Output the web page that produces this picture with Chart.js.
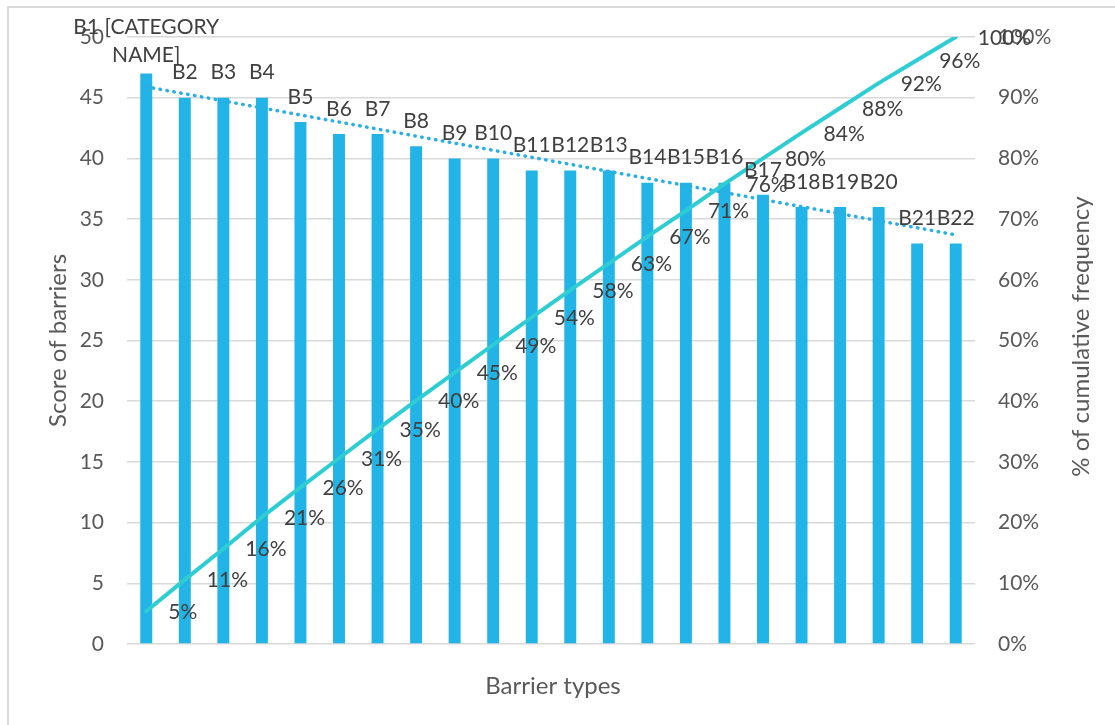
<!DOCTYPE html>
<html>
<head>
<meta charset="utf-8">
<title>Barrier types</title>
<script src="https://cdn.jsdelivr.net/npm/chart.js@4.4.1/dist/chart.umd.min.js"></script>
<style>
  html, body { margin: 0; padding: 0; background: #fff; overflow: hidden; }
  #wrap { position: relative; width: 1115px; height: 725px; }
  #frame {
    position: absolute; left: 7px; top: 6px; width: 1200px; height: 800px;
    border: 2px solid #d9d9d9; box-sizing: border-box;
  }
  canvas { position: absolute; left: 0; top: 0; }
</style>
</head>
<body>
<div id="wrap">
  <div id="frame"></div>
  <canvas id="chart" width="1115" height="725"></canvas>
</div>
<script>
/* ---------- data ---------- */
const categories = [
  ["B1 [CATEGORY", "NAME]"], "B2", "B3", "B4", "B5", "B6", "B7", "B8", "B9", "B10", "B11",
  "B12", "B13", "B14", "B15", "B16", "B17", "B18", "B19", "B20", "B21", "B22"
];
const scores = [47, 45, 45, 45, 43, 42, 42, 41, 40, 40, 39, 39, 39, 38, 38, 38, 37, 36, 36, 36, 33, 33];
const cumulativePct = [5.4, 10.6, 15.7, 20.9, 25.8, 30.6, 35.4, 40.1, 44.7, 49.3, 53.8,
  58.3, 62.7, 67.1, 71.4, 75.8, 80.0, 84.2, 88.3, 92.4, 96.2, 100];
// linear trend of the scores, only its two ends are needed
const trendEnds = [45.9, 33.7];
const scoreTicks = { min: 0, max: 50, step: 5 };
const pctTicks = { min: 0, max: 100, step: 10 };

const FONT = "Lato, 'Open Sans', sans-serif";
const BAR_COLOR = "#22b4e6";
const CUM_COLOR = "#2ecdd4";
const TREND_COLOR = "#2aaee4";
const LABEL_COLOR = "#404040";
const AXIS_COLOR = "#595959";
const GRID_COLOR = "#d9d9d9";

const trendData = categories.map((_, i) =>
  i === 0 ? trendEnds[0] : (i === categories.length - 1 ? trendEnds[1] : null));

/* ---------- labels + titles ---------- */
const labelPlugin = {
  id: "labels",
  afterDatasetsDraw(chart) {
    const ctx = chart.ctx;
    const area = chart.chartArea;
    ctx.save();
    ctx.font = "21px " + FONT;
    ctx.fillStyle = LABEL_COLOR;

    // category names above bars
    const bars = chart.getDatasetMeta(0).data;
    const lh = 28;
    bars.forEach((el, i) => {
      const lines = [].concat(categories[i]);
      let first = el.y - 25 - (lines.length - 1) * lh;
      if (first < 27) first = 27;
      ctx.textAlign = "center";
      ctx.textBaseline = "middle";
      lines.forEach((t, k) => ctx.fillText(t, el.x, first + k * lh));
    });

    // cumulative percentages right of the points
    const pts = chart.getDatasetMeta(2).data;
    ctx.textAlign = "left";
    ctx.textBaseline = "middle";
    pts.forEach((el, i) => {
      ctx.fillText(Math.round(cumulativePct[i]) + "%", el.x + 22, el.y + 1);
    });

    // axis titles
    ctx.fillStyle = AXIS_COLOR;
    ctx.font = "24px " + FONT;
    const midY = (area.top + area.bottom) / 2;
    ctx.textAlign = "center";
    ctx.textBaseline = "middle";
    ctx.fillText("Barrier types", (area.left + area.right) / 2 + 2, 686);

    ctx.translate(58, midY);
    ctx.rotate(-Math.PI / 2);
    ctx.fillText("Score of barriers", 0, 0);
    ctx.setTransform(1, 0, 0, 1, 0, 0);

    ctx.translate(1081, midY - 4);
    ctx.rotate(-Math.PI / 2);
    ctx.fillText("% of cumulative frequency", 0, 0);
    ctx.restore();
  }
};

new Chart(document.getElementById("chart"), {
  type: "bar",
  data: {
    labels: categories,
    datasets: [
      {
        label: "Score",
        data: scores,
        backgroundColor: BAR_COLOR,
        barPercentage: 0.31,
        categoryPercentage: 1,
        yAxisID: "y",
        order: 3
      },
      {
        type: "line",
        label: "Trend",
        data: trendData,
        spanGaps: true,
        borderColor: TREND_COLOR,
        borderWidth: 3.5,
        borderDash: [0.5, 6.5],
        borderCapStyle: "round",
        pointRadius: 0,
        yAxisID: "y",
        order: 2
      },
      {
        type: "line",
        label: "Cumulative",
        data: cumulativePct,
        borderColor: CUM_COLOR,
        borderWidth: 4,
        borderCapStyle: "round",
        pointRadius: 0,
        tension: 0,
        yAxisID: "y1",
        order: 1
      }
    ]
  },
  options: {
    responsive: false,
    animation: false,
    layout: { padding: { top: 37, left: 0, right: 0, bottom: 0 } },
    plugins: {
      legend: { display: false },
      tooltip: { enabled: false }
    },
    scales: {
      x: {
        grid: { display: false, drawTicks: false },
        border: { display: false },
        ticks: { display: false },
        afterFit(s) { s.height = 81; }
      },
      y: {
        position: "left",
        min: scoreTicks.min,
        max: scoreTicks.max,
        ticks: {
          stepSize: scoreTicks.step,
          padding: 23,
          color: AXIS_COLOR,
          font: { family: FONT, size: 21 }
        },
        grid: { color: GRID_COLOR, lineWidth: 1.5, drawTicks: false },
        border: { display: false },
        afterFit(s) { s.width = 127; }
      },
      y1: {
        position: "right",
        min: pctTicks.min,
        max: pctTicks.max,
        ticks: {
          stepSize: pctTicks.step,
          padding: 23,
          color: AXIS_COLOR,
          font: { family: FONT, size: 21 },
          callback: v => v + "%"
        },
        grid: { display: false, drawTicks: false },
        border: { display: false },
        afterFit(s) { s.width = 140; }
      }
    }
  },
  plugins: [labelPlugin]
});
</script>
</body>
</html>
